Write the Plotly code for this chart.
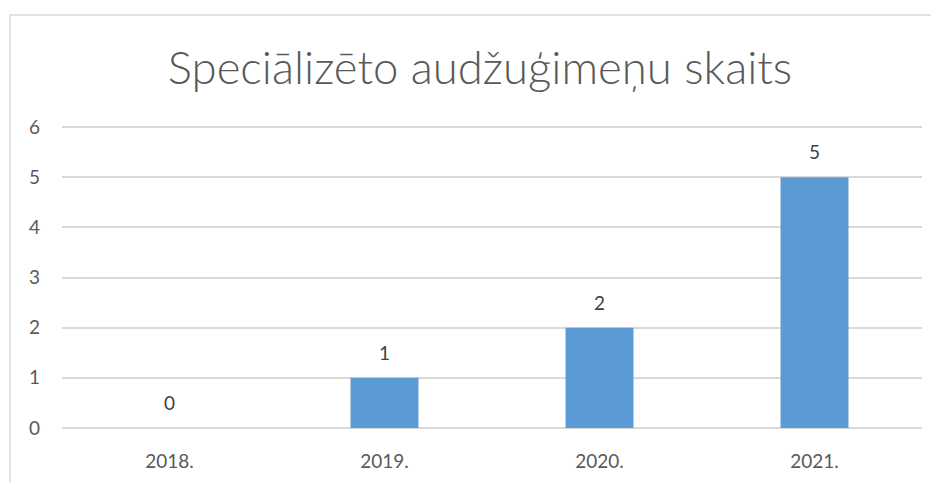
import plotly.graph_objects as go

categories = ["2018.", "2019.", "2020.", "2021."]
values = [0, 1, 2, 5]
title_text = "Speciālizēto audžuģimeņu skaits"
y_ticks = [0, 1, 2, 3, 4, 5, 6]

# page has an 8px body margin, so the figure is sized/offset to compensate
OFF = 8
W, H = 939 - OFF, 482 - OFF
L, R, T, B = 62 - OFF, 17, 127 - OFF - 2, 54
FONT = "Lato, Open Sans, sans-serif"
Y_TOP = 6.04

fig = go.Figure()
fig.add_trace(go.Bar(
    x=categories, y=values,
    marker=dict(color="#5B9BD5", line=dict(width=0)),
    hoverinfo="skip",
))

for i, v in enumerate(values):
    fig.add_annotation(
        x=i, y=v, xref="x", yref="y", text=str(v), showarrow=False,
        yanchor="bottom", yshift=12,
        font=dict(family=FONT, size=19, color="#404040"),
    )

pw = W - L - R
ph = H - T - B
fig.add_shape(
    type="rect", xref="paper", yref="paper",
    x0=(10 - OFF - L) / pw, x1=(W + 20 - L) / pw,
    y0=-(B + 20) / ph, y1=((H - B) - (15 - OFF)) / ph,
    line=dict(color="#D9D9D9", width=1.5), fillcolor="rgba(0,0,0,0)", layer="below",
)

fig.update_layout(
    width=W, height=H,
    margin=dict(l=L, r=R, t=T, b=B, pad=0),
    paper_bgcolor="white", plot_bgcolor="white",
    bargap=0.684,
    showlegend=False,
    title=dict(
        text=title_text, x=(480 - OFF) / W, xref="container", xanchor="center",
        y=1 - 60 / H, yref="container", yanchor="middle",
        font=dict(family=FONT, size=45.5, color="#595959", weight=300),
    ),
    xaxis=dict(
        type="category", range=[-0.5, len(categories) - 0.5], automargin=False,
        showgrid=False, showline=False, zeroline=False, ticks="",
        tickfont=dict(family=FONT, size=19, color="#595959"),
        ticklabelstandoff=20,
    ),
    yaxis=dict(
        range=[0, Y_TOP], tickvals=y_ticks, showgrid=True, gridcolor="#D9D9D9", gridwidth=1.5,
        zeroline=True, zerolinecolor="#D9D9D9", zerolinewidth=1.5, automargin=False,
        showline=False, ticks="",
        tickfont=dict(family=FONT, size=19, color="#595959"),
        ticklabelstandoff=21,
    ),
)

fig.write_html("out.html")
